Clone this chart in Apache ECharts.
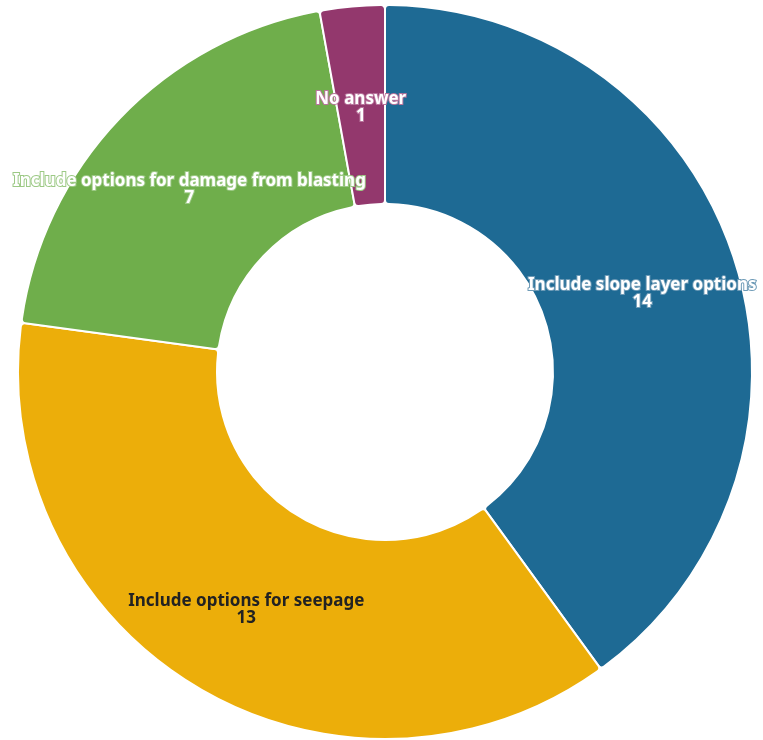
<!DOCTYPE html>
<html>
<head>
<meta charset="utf-8">
<script src="https://cdn.jsdelivr.net/npm/echarts@6/dist/echarts.min.js"></script>
<style>html,body{margin:0;padding:0;background:#fff;}#c{width:763px;height:740px;}</style>
</head>
<body>
<div id="c"></div>
<script>
const categories = ['Include slope layer options', 'Include options for seepage', 'Include options for damage from blasting', 'No answer'];
const values = [14, 13, 7, 1];
const colors = ['#1e6a94', '#ecae0a', '#6fae4b', '#93386d'];
const textColors = ['#ffffff', '#222222', '#ffffff', '#ffffff'];
const haloColors = ['#6e9bb7', '#ecae0a', '#9cc985', '#b9749c'];

const chart = echarts.init(document.getElementById('c'));
chart.setOption({
  animation: false,
  series: [{
    type: 'pie',
    center: [385, 372],
    radius: [168, 367],
    startAngle: 90,
    clockwise: true,
    itemStyle: { borderColor: '#ffffff', borderWidth: 2, borderRadius: 4 },
    label: {
      show: true,
      position: 'inside',
      formatter: '{b}\n{c}',
      fontFamily: 'Noto Sans',
      fontWeight: 'bold',
      fontSize: 17,
      lineHeight: 17,
      offset: [0, 5]
    },
    labelLine: { show: false },
    data: categories.map((name, i) => ({
      name, value: values[i],
      itemStyle: { color: colors[i] },
      label: { color: textColors[i], textBorderColor: haloColors[i], textBorderWidth: i === 1 ? 0 : 2 }
    }))
  }]
});
</script>
</body>
</html>
